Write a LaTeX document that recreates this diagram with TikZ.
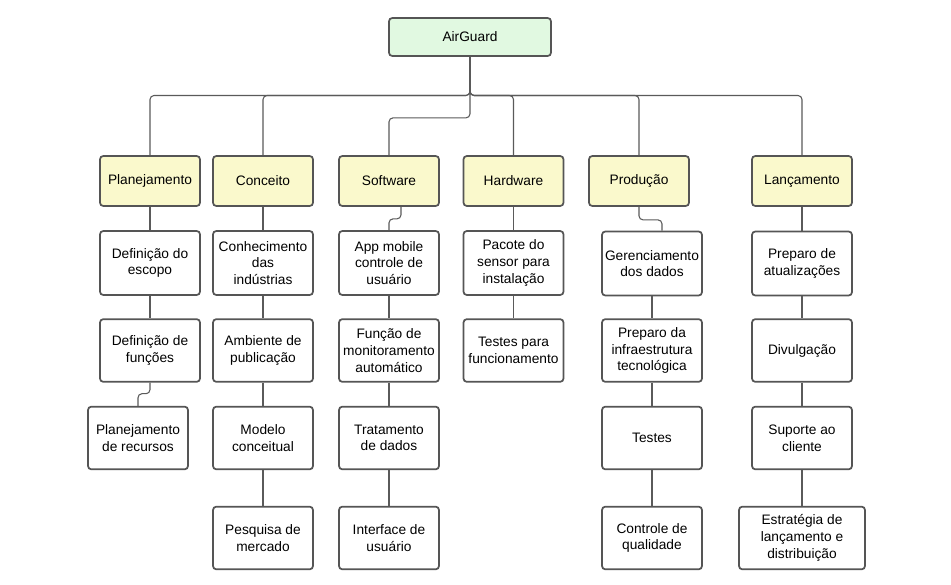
\documentclass[tikz,border=0pt]{standalone}
\usepackage{fontspec}
\setmainfont{Liberation Sans}
\usetikzlibrary{calc}
\definecolor{boxline}{HTML}{555555}
\definecolor{connline}{HTML}{5A5A5A}
\definecolor{yel}{HTML}{FAF9CC}
\definecolor{grn}{HTML}{E1F9E1}
\begin{document}
\begin{tikzpicture}[x=0.75pt,y=-0.75pt,
  box/.style={draw=boxline, line width=1.3pt, rounded corners=2.5pt, fill=white,
    align=center, inner sep=0pt, minimum width=75pt, minimum height=47pt,
    font=\fontsize{10.3pt}{12.5pt}\selectfont},
  lvl/.style={box, fill=yel, minimum height=37.5pt},
  rootbox/.style={box, fill=grn, minimum width=121.5pt, minimum height=28.5pt},
  conn/.style={draw=connline, line width=0.8pt, rounded corners=3pt}]
\useasboundingbox (0,0) rectangle (951,585);
\fill[white] (0,0) rectangle (951,585);

\node[rootbox] (root) at (470,37) {AirGuard};

\node[lvl] (plan) at (150,181) {Planejamento};
\node[lvl] (conc) at (263,181) {Conceito};
\node[lvl] (soft) at (389,181) {Software};
\node[lvl] (hard) at (513.5,181) {Hardware};
\node[lvl] (prod) at (639,181) {Produção};
\node[lvl] (lanc) at (802,181) {Lançamento};

% row 2
\node[box, minimum height=48pt] (p1) at (150,263) {Definição do\\escopo};
\node[box, minimum height=48pt] (c1) at (263,263) {Conhecimento\\das\\indústrias};
\node[box, minimum height=48pt] (s1) at (389,263) {App mobile\\controle de\\usuário};
\node[box, minimum height=48pt] (h1) at (513.5,263) {Pacote do\\sensor para\\instalação};
\node[box, minimum height=48pt] (r1) at (652,263.5) {Gerenciamento\\dos dados};
\node[box, minimum height=48pt] (l1) at (802,263.5) {Preparo de\\atualizações};

% row 3
\node[box] (p2) at (150,350.5) {Definição de\\funções};
\node[box] (c2) at (263,350.5) {Ambiente de\\publicação};
\node[box] (s2) at (389,350.5) {Função de\\monitoramento\\automático};
\node[box] (h2) at (513.5,350.5) {Testes para\\funcionamento};
\node[box] (r2) at (652,350.5) {Preparo da\\infraestrutura\\tecnológica};
\node[box] (l2) at (802,350.5) {Divulgação};

% row 4
\node[box] (p3) at (138,438) {Planejamento\\de recursos};
\node[box] (c3) at (263,438) {Modelo\\conceitual};
\node[box] (s3) at (389,438) {Tratamento\\de dados};
\node[box] (r3) at (652,438) {Testes};
\node[box] (l3) at (802,438) {Suporte ao\\cliente};

% row 5
\node[box] (c4) at (263,538) {Pesquisa de\\mercado};
\node[box] (s4) at (389,538) {Interface de\\usuário};
\node[box] (r4) at (652,538) {Controle de\\qualidade};
\node[box, minimum width=94.5pt] (l4) at (802,538) {Estratégia de\\lançamento e\\distribuição};

% root connectors
\coordinate (bus) at (470,95.5);
\draw[conn] (root.south) -- (bus) -| (plan.north);
\draw[conn] (root.south) -- (bus) -| (conc.north);
\draw[conn] (root.south) -- ++(0,61) -| (soft.north);
\draw[conn] (root.south) -- (bus) -| (hard.north);
\draw[conn] (root.south) -- (bus) -| (prod.north);
\draw[conn] (root.south) -- (bus) -| (lanc.north);

% column connectors
\draw[conn] (plan.south) -- (p1.north);
\draw[conn] (p1.south) -- (p2.north);
\draw[conn] (p2.south) -- ++(0,11) -| (p3.north);

\draw[conn] (conc.south) -- (c1.north);
\draw[conn] (c1.south) -- (c2.north);
\draw[conn] (c2.south) -- (c3.north);
\draw[conn] (c3.south) -- (c4.north);

\draw[conn] ($(soft.south)+(12,0)$) -- ++(0,12) -| (s1.north);
\draw[conn] (s1.south) -- (s2.north);
\draw[conn] (s2.south) -- (s3.north);
\draw[conn] (s3.south) -- (s4.north);

\draw[conn] (hard.south) -- (h1.north);
\draw[conn] (h1.south) -- (h2.north);

\draw[conn] (prod.south) -- ++(0,13) -| ($(r1.north)+(10,0)$);
\draw[conn] (r1.south) -- (r2.north);
\draw[conn] (r2.south) -- (r3.north);
\draw[conn] (r3.south) -- (r4.north);

\draw[conn] (lanc.south) -- (l1.north);
\draw[conn] (l1.south) -- (l2.north);
\draw[conn] (l2.south) -- (l3.north);
\draw[conn] (l3.south) -- (l4.north);
\end{tikzpicture}
\end{document}
